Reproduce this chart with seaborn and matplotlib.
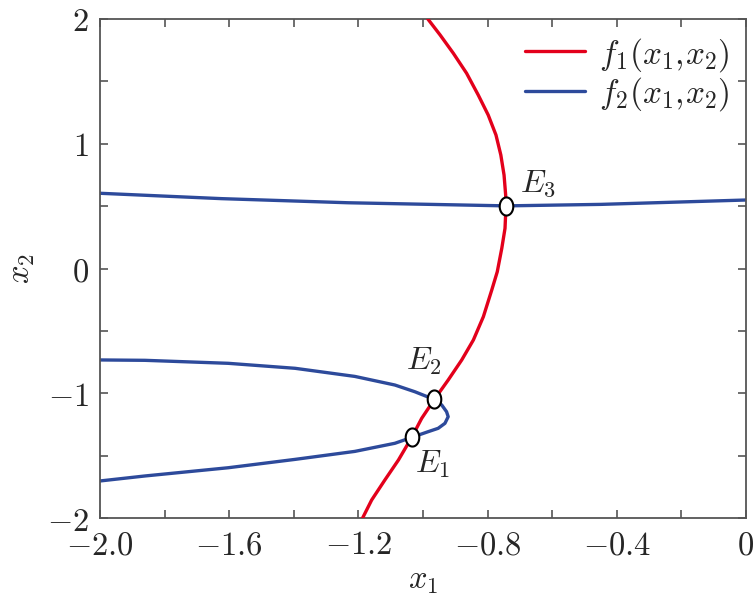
import numpy as np
import pandas as pd
import matplotlib
matplotlib.use("Agg")
import matplotlib.pyplot as plt
import seaborn as sns
from matplotlib.path import Path

# ---- data ----
f1_x1 = [-0.985, -0.947, -0.906, -0.865, -0.829, -0.798, -0.774, -0.759, -0.749,
         -0.744, -0.743, -0.746, -0.756, -0.770, -0.787, -0.813, -0.844, -0.880,
         -0.922, -0.965, -1.004, -1.035, -1.076, -1.118, -1.159, -1.187]
f1_x2 = [2.000, 1.872, 1.725, 1.565, 1.391, 1.230, 1.070, 0.910, 0.749,
         0.589, 0.501, 0.322, 0.162, -0.026, -0.172, -0.386, -0.573, -0.733,
         -0.894, -1.050, -1.201, -1.354, -1.535, -1.695, -1.856, -2.000]

f2a_x1 = [-2.000, -1.624, -1.232, -0.840, -0.742, -0.449, 0.000]
f2a_x2 = [0.603, 0.560, 0.527, 0.507, 0.502, 0.514, 0.549]

f2b_x1 = [-2.000, -1.861, -1.603, -1.396, -1.211, -1.087, -1.025, -0.965, -0.942,
          -0.927, -0.922, -0.932, -0.953, -0.984, -1.035, -1.087, -1.211, -1.396,
          -1.603, -1.861, -2.000]
f2b_x2 = [-0.733, -0.736, -0.760, -0.800, -0.865, -0.934, -0.988, -1.050, -1.094,
          -1.148, -1.188, -1.241, -1.281, -1.308, -1.354, -1.401, -1.466, -1.530,
          -1.597, -1.663, -1.703]

eq_names = ["E_1", "E_2", "E_3"]
eq_x1 = [-1.035, -0.965, -0.743]
eq_x2 = [-1.354, -1.050, 0.501]

x_ticks = [-2.0, -1.8, -1.6, -1.4, -1.2, -1.0, -0.8, -0.6, -0.4, -0.2, 0.0]
x_tick_labels = ["$-2.0$", "", "$-1.6$", "", "$-1.2$", "", "$-0.8$", "", "$-0.4$", "", "$0$"]
y_ticks = [-2, -1.5, -1, -0.5, 0, 0.5, 1, 1.5, 2]
y_tick_labels = ["$-2$", "", "$-1$", "", "$0$", "", "$1$", "", "$2$"]

red = "#E3001B"
blue = "#2D4A9B"
spine_c = "#555555"

sns.set_theme(style="ticks")
plt.rcParams["mathtext.fontset"] = "cm"
plt.rcParams["font.family"] = ["DejaVu Serif"]

fig = plt.figure(figsize=(7.55, 5.99), dpi=100)
ax = fig.add_axes([0.1325, 0.1352, 0.988 - 0.1325, 0.9683 - 0.1352])

df1 = pd.DataFrame({"x1": f1_x1, "x2": f1_x2})
df2a = pd.DataFrame({"x1": f2a_x1, "x2": f2a_x2})
df2b = pd.DataFrame({"x1": f2b_x1, "x2": f2b_x2})

sns.lineplot(data=df1, x="x1", y="x2", sort=False, estimator=None, color=red,
             lw=2.4, ax=ax, label=r"$f_1(x_1,\!x_2)$", zorder=3)
sns.lineplot(data=df2a, x="x1", y="x2", sort=False, estimator=None, color=blue,
             lw=2.4, ax=ax, label=r"$f_2(x_1,\!x_2)$", zorder=2)
sns.lineplot(data=df2b, x="x1", y="x2", sort=False, estimator=None, color=blue,
             lw=2.4, ax=ax, zorder=2)
for ln in ax.get_lines():
    ln.set_solid_joinstyle("round")

# elliptical marker
t = np.linspace(0, 2 * np.pi, 60)
ell = Path(np.column_stack([0.75 * np.cos(t), np.sin(t)]), closed=True)
ax.scatter(eq_x1, eq_x2, marker=ell, s=170, facecolor="white", edgecolor="black",
           linewidth=1.5, zorder=5)

label_pos = {"E_1": (-0.972, -1.57), "E_2": (-0.999, -0.74), "E_3": (-0.643, 0.68)}
for n in eq_names:
    px, py = label_pos[n]
    ax.text(px, py, f"${n}$", fontsize=23, ha="center", va="center", zorder=6)

ax.set_xlim(-2.0, 0.0)
ax.set_ylim(-2.0, 2.0)
ax.set_xticks(x_ticks)
ax.set_xticklabels(x_tick_labels)
ax.set_yticks(y_ticks)
ax.set_yticklabels(y_tick_labels)
ax.tick_params(direction="in", length=6, width=1.2, color=spine_c, labelsize=23.5,
               top=True, right=True, pad=8)
for s in ax.spines.values():
    s.set_color(spine_c)
    s.set_linewidth(1.3)

ax.set_xlabel("$x_1$", fontsize=23.5, labelpad=2)
ax.set_ylabel("$x_2$", fontsize=23.5, labelpad=7)

leg = ax.legend(loc="upper right", frameon=False, fontsize=24, handlelength=1.8,
                handletextpad=0.4, borderaxespad=0.1, labelspacing=0.05)

fig.savefig("out.png", dpi=100)
